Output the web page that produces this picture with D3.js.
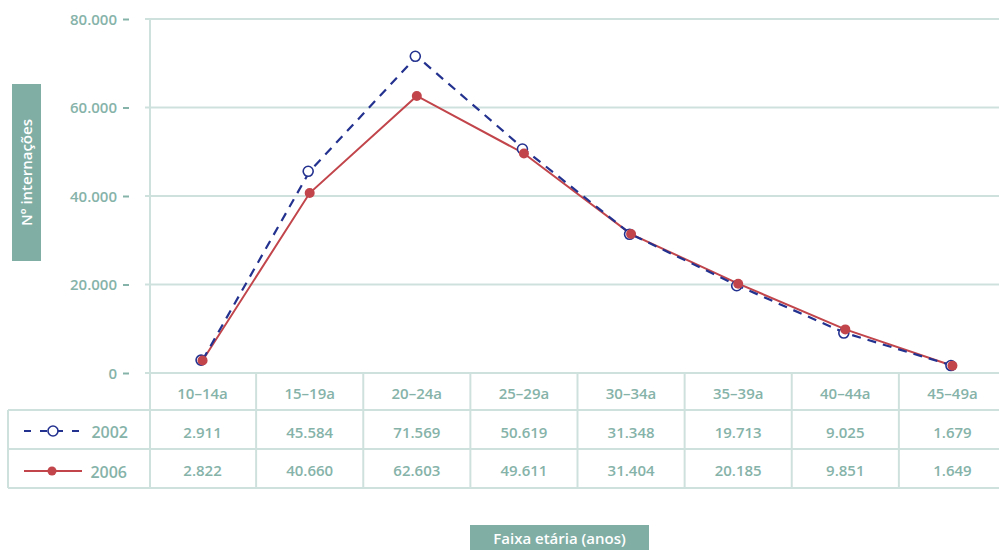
<!DOCTYPE html>
<html><head><meta charset="utf-8">
<script src="https://cdn.jsdelivr.net/npm/d3@7"></script>
<style>
body{margin:0;background:#fff;}
text{font-family:"Open Sans",sans-serif;}
</style></head>
<body><svg id="c" width="999" height="550"></svg>
<script>
const categories = ["10-14a","15-19a","20-24a","25-29a","30-34a","35-39a","40-44a","45-49a"];
const seriesNames = ["2002","2006"];
const values2002 = [2911,45584,71569,50619,31348,19713,9025,1679];
const values2006 = [2822,40660,62603,49611,31404,20185,9851,1649];
const yTicks = [0,20000,40000,60000,80000];
const yTitle = "Nº internações";
const xTitle = "Faixa etária (anos)";

const txt = "#86b3a9", grid = "#cfe1dd", boxFill = "#80aea5";
const blue = "#24328f", red = "#c1454b";
const loc = d3.formatLocale({decimal:",",thousands:".",grouping:[3],currency:["R$",""]});
const fmt = loc.format(",.0f");
const FS = 15;

const svg = d3.select("#c");
const x = d3.scaleBand().domain(categories).range([149,1006]).padding(0);
const y = d3.scaleLinear().domain([0,80000]).range([373,19]);

// gridlines
svg.append("g").selectAll("line").data(yTicks).join("line")
  .attr("x1",145).attr("x2",999).attr("y1",d=>y(d)).attr("y2",d=>y(d))
  .attr("stroke",grid).attr("stroke-width",2);
// left frame
svg.append("line").attr("x1",150).attr("x2",150).attr("y1",19).attr("y2",488)
  .attr("stroke",grid).attr("stroke-width",2);

// y axis
const yAxis = svg.append("g").attr("transform","translate(129,0)")
  .call(d3.axisLeft(y).tickValues(yTicks).tickSize(6).tickPadding(6)
    .tickFormat(d => d===0 ? "0" : fmt(d)));
yAxis.select(".domain").remove();
yAxis.selectAll(".tick line").attr("stroke",txt).attr("stroke-width",2);
yAxis.selectAll(".tick text").attr("fill",txt).attr("font-size",FS).attr("font-weight",600).attr("dy","0.35em");

// y title box
svg.append("rect").attr("x",12).attr("y",84).attr("width",29).attr("height",177).attr("fill",boxFill);
svg.append("text").attr("transform","translate(27,172.5) rotate(-90)")
  .attr("text-anchor","middle").attr("dy","0.35em").attr("fill","#fff")
  .attr("font-size",FS).attr("font-weight",600).text(yTitle);

// table lines
[410,449,488].forEach(yy=>{
  svg.append("line").attr("x1",8).attr("x2",999).attr("y1",yy).attr("y2",yy)
    .attr("stroke",grid).attr("stroke-width",2);
});
svg.append("line").attr("x1",8).attr("x2",8).attr("y1",410).attr("y2",488).attr("stroke",grid).attr("stroke-width",2);
svg.append("g").selectAll("line").data(categories.slice(1)).join("line")
  .attr("x1",d=>x(d)).attr("x2",d=>x(d)).attr("y1",373).attr("y2",488)
  .attr("stroke",grid).attr("stroke-width",2);

// header labels
svg.append("g").selectAll("text").data(categories).join("text")
  .attr("x",d=>x(d)+x.bandwidth()/2).attr("y",394).attr("dy","0.35em")
  .attr("text-anchor","middle").attr("fill",txt).attr("font-size",FS).attr("font-weight",600)
  .text(d=>d.replace("-","–"));

// value rows
[[values2002,433],[values2006,471]].forEach(([vals,yy])=>{
  svg.append("g").selectAll("text").data(vals).join("text")
    .attr("x",(d,i)=>x(categories[i])+x.bandwidth()/2).attr("y",yy).attr("dy","0.35em")
    .attr("text-anchor","middle").attr("fill",txt).attr("font-size",FS).attr("font-weight",600)
    .text(d=>fmt(d));
});

// lines
const line = d3.line().x((d,i)=>x(categories[i])+x.bandwidth()/2).y(d=>y(d));
svg.append("path").datum(values2006).attr("d",line).attr("fill","none").attr("stroke",red).attr("stroke-width",2);
svg.append("path").datum(values2002).attr("d",line).attr("fill","none").attr("stroke",blue).attr("stroke-width",2.2).attr("stroke-dasharray","9,7");
svg.append("g").selectAll("circle").data(values2002).join("circle")
  .attr("cx",(d,i)=>x(categories[i])+x.bandwidth()/2-1.5).attr("cy",d=>y(d)).attr("r",5)
  .attr("fill","#fff").attr("stroke",blue).attr("stroke-width",1.6);
svg.append("g").selectAll("circle").data(values2006).join("circle")
  .attr("cx",(d,i)=>x(categories[i])+x.bandwidth()/2).attr("cy",d=>y(d)).attr("r",5)
  .attr("fill",red);

// legend
const lg1 = svg.append("g");
lg1.append("line").attr("x1",24).attr("x2",82).attr("y1",431).attr("y2",431)
  .attr("stroke",blue).attr("stroke-width",2.2).attr("stroke-dasharray","7,9");
lg1.append("circle").attr("cx",53).attr("cy",431).attr("r",5).attr("fill","#fff").attr("stroke",blue).attr("stroke-width",1.6);
lg1.append("text").attr("x",128).attr("y",432).attr("dy","0.35em").attr("text-anchor","end")
  .attr("fill",txt).attr("font-size",16).attr("font-weight",600).text(seriesNames[0]);
const lg2 = svg.append("g");
lg2.append("line").attr("x1",24).attr("x2",82).attr("y1",471).attr("y2",471).attr("stroke",red).attr("stroke-width",2);
lg2.append("circle").attr("cx",52).attr("cy",471).attr("r",4.5).attr("fill",red);
lg2.append("text").attr("x",127).attr("y",472).attr("dy","0.35em").attr("text-anchor","end")
  .attr("fill",txt).attr("font-size",16).attr("font-weight",600).text(seriesNames[1]);

// x title box
svg.append("rect").attr("x",470).attr("y",525).attr("width",179).attr("height",25).attr("fill",boxFill);
svg.append("text").attr("x",559.5).attr("y",539).attr("dy","0.35em").attr("text-anchor","middle")
  .attr("fill","#fff").attr("font-size",FS).attr("font-weight",600).text(xTitle);
</script></body></html>
